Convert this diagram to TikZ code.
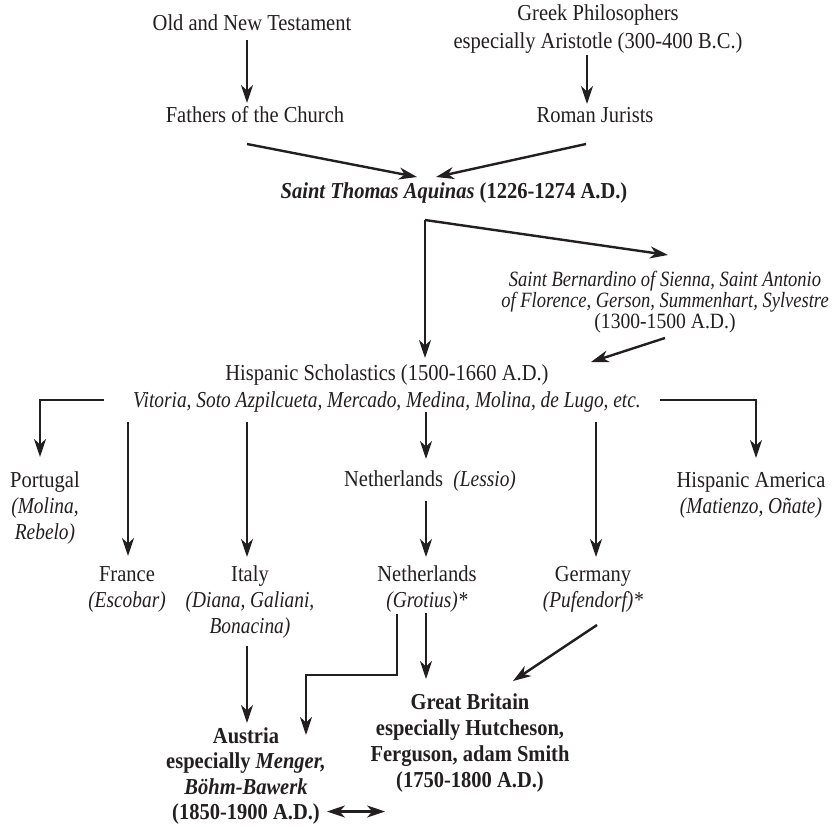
\documentclass[tikz,border=0pt]{standalone}
\usepackage{fontspec}
\setmainfont{Liberation Serif}[FakeStretch=0.9, ItalicFeatures={FakeStretch=0.85}]
\usetikzlibrary{arrows.meta,calc}
\definecolor{ink}{HTML}{231F20}
\newcommand\tightlines{\lineskiplimit=-50pt\relax}
\tikzset{
  lbl/.style={inner sep=0pt, text=ink, align=center, font=\fontsize{22.8}{26}\selectfont},
  arr/.style={draw=ink, line width=2.4pt, -{Stealth[length=18pt,width=12pt,inset=5.5pt]}},
  dbl/.style={draw=ink, line width=2.4pt, {Stealth[length=18pt,width=12pt,inset=5.5pt]}-{Stealth[length=18pt,width=12pt,inset=5.5pt]}},
}
\begin{document}
\begin{tikzpicture}[x=1pt,y=-1pt]
\fill[white] (0,0) rectangle (838,827);
\useasboundingbox (0,0) rectangle (838,827);

% nodes
\node[lbl] (old) at (252,23) {Old and New Testament};
\node[lbl, font=\fontsize{22.8}{28}\selectfont] (greek) at (598,29.5) {Greek Philosophers\\especially Aristotle (300-400 B.C.)};
\node[lbl] (fathers) at (255,115) {Fathers of the Church};
\node[lbl] (roman) at (595,115) {Roman Jurists};
\node[lbl] (aquinas) at (454,193) {\textbf{\textit{Saint Thomas Aquinas} (1226-1274 A.D.)}};
\node[lbl, font=\fontsize{21.8}{21}\selectfont\tightlines] (bern) at (665,302) {\textit{Saint Bernardino of Sienna, Saint Antonio}\\\textit{of Florence, Gerson, Summenhart, Sylvestre}\\(1300-1500 A.D.)};
\node[lbl, font=\fontsize{22.8}{27}\selectfont] (hisp) at (387,388.5) {Hispanic Scholastics (1500-1660 A.D.)\\\textit{Vitoria, Soto Azpilcueta, Mercado, Medina, Molina, de Lugo, etc.}};
\node[lbl] (portugal) at (45,508) {Portugal\\\textit{(Molina,}\\\textit{Rebelo)}};
\node[lbl] (lessio) at (430,481) {Netherlands~ \textit{(Lessio)}};
\node[lbl] (hispam) at (751,495) {Hispanic America\\\textit{(Matienzo, Oñate)}};
\node[lbl] (france) at (127,589) {France\\\textit{(Escobar)}};
\node[lbl] (italy) at (250,602) {Italy\\\textit{(Diana, Galiani,}\\\textit{Bonacina)}};
\node[lbl] (neth) at (427,589) {Netherlands\\\textit{(Grotius)*}};
\node[lbl] (germany) at (593,589) {Germany\\\textit{(Pufendorf)*}};
\node[lbl, font=\bfseries\fontsize{22.8}{26.3}\selectfont] (gb) at (470,743) {Great Britain\\especially Hutcheson,\\Ferguson, adam Smith\\(1750-1800 A.D.)};
\node[lbl, font=\bfseries\fontsize{22.8}{25.3}\selectfont] (austria) at (246,776) {Austria\\especially \textit{Menger,}\\\textit{Böhm-Bawerk}\\(1850-1900 A.D.)};

% connectors
\draw[arr] ($(old)+(-5,17)$) -- ($(fathers)+(-8,-12)$);
\draw[arr] ($(greek)+(-11,25.5)$) -- ($(roman)+(-8,-11)$);
\draw[arr] ($(fathers)+(-8,29)$) -- ($(aquinas)+(-37,-16)$);
\draw[arr] ($(roman)+(-9,29)$) -- ($(aquinas)+(-18,-16)$);
\coordinate (fork) at ($(aquinas)+(-29,27)$);
\draw[arr] (fork) -- ($(bern)+(3,-47)$);
\draw[arr] (fork) -- ($(hisp)+(38,-30.5)$);
\draw[arr] ($(bern)+(0,36)$) -- ($(hisp)+(204,-26.5)$);
\draw[arr] ($(hisp)+(-283,11.5)$) -| ($(portugal)+(-5,-51)$);
\draw[arr] ($(hisp)+(273,11.5)$) -| ($(hispam)+(5,-37)$);
\draw[arr] ($(hisp)+(-259,33.5)$) -- ($(france)+(1,-33)$);
\draw[arr] ($(hisp)+(-140,33.5)$) -- ($(italy)+(-3,-45)$);
\draw[arr] ($(hisp)+(39,23.5)$) -- ($(lessio)+(-4,-22)$);
\draw[arr] ($(lessio)+(-4,20)$) -- ($(neth)+(-1,-32)$);
\draw[arr] ($(hisp)+(209,33.5)$) -- ($(germany)+(3,-32)$);
\draw[arr] ($(italy)+(-3,44)$) -- ($(austria)+(1,-53)$);
\draw[arr] ($(neth)+(-30,25)$) |- ($(austria)+(60,-101)$) -- ($(austria)+(60,-41)$);
\draw[arr] ($(neth)+(-1,24)$) -- ($(gb)+(-44,-64)$);
\draw[arr] ($(germany)+(4,36)$) -- ($(gb)+(43,-62)$);
\draw[dbl] ($(austria)+(81,35.5)$) -- ($(gb)+(-85,68.5)$);
\end{tikzpicture}
\end{document}
